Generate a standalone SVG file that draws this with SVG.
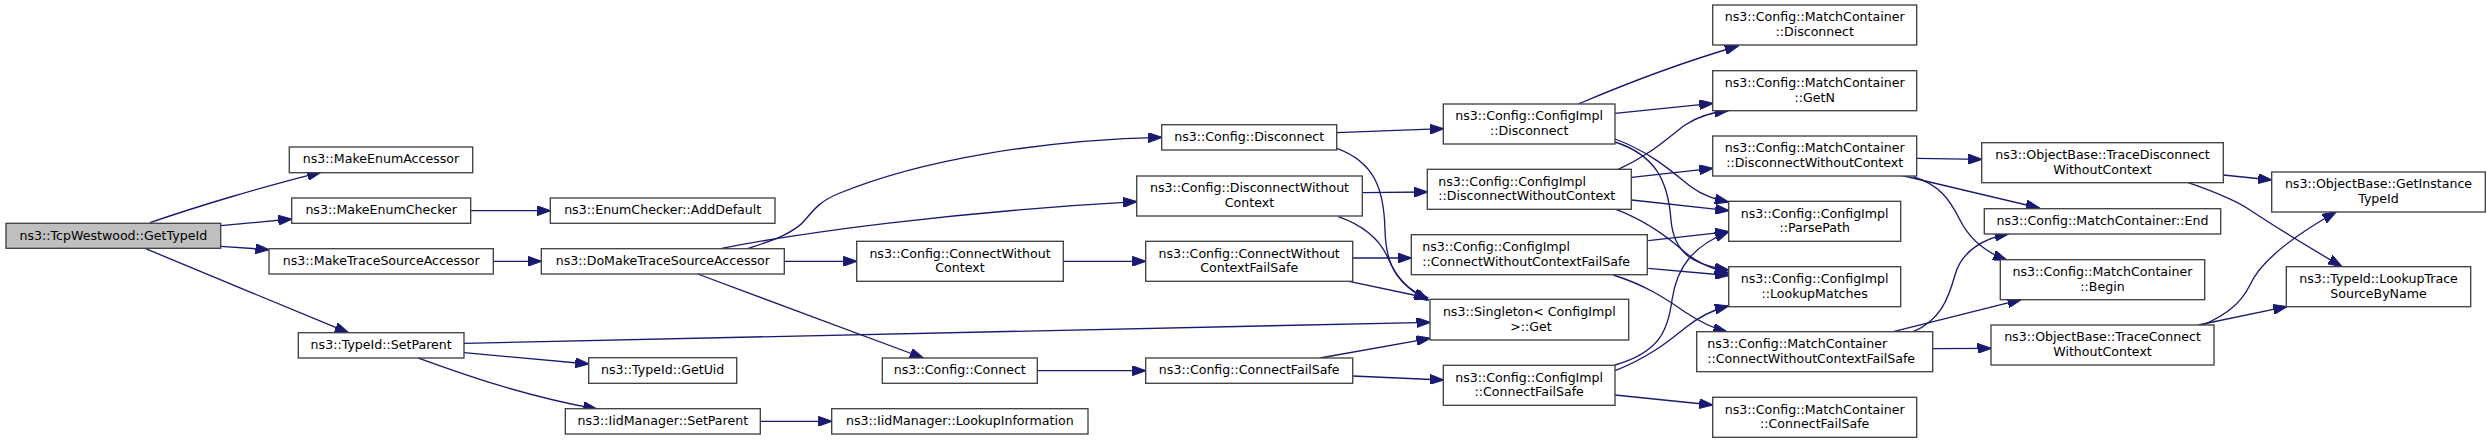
<svg xmlns="http://www.w3.org/2000/svg" width="2491" height="443" viewBox="0 0 2491 443">
<style>
.n rect{fill:#ffffff;stroke:#404040;stroke-width:1.33}
.root rect{fill:#bfbfbf}
.n text{font-family:"DejaVu Sans",sans-serif;font-size:12.6px;fill:#000000;text-anchor:middle}
.n text.l{text-anchor:start}
.e path{fill:none;stroke:#191970;stroke-width:1.33;marker-end:url(#ah)}
</style>
<defs>
<marker id="ah" markerUnits="userSpaceOnUse" viewBox="0 0 14 10" refX="13.5" refY="5" markerWidth="14" markerHeight="10" orient="auto">
<path d="M0,0 L14,5 L0,10 z" fill="#191970" stroke="#191970" stroke-width="1"/>
</marker>
</defs>
<rect width="2491" height="443" fill="#ffffff"/>
<g id="edges" class="e">
<path d="M150,222.7 C195,207 265,186 320.7,172.3"/>
<path d="M220.7,225.7 L291.7,219"/>
<path d="M220.7,246.3 L269,249.7"/>
<path d="M145.7,248.7 L348.3,332.7"/>
<path d="M470.7,210.7 L550.3,210.7"/>
<path d="M493.3,261.3 L541.3,261.3"/>
<path d="M464,343.3 L1430,322.3"/>
<path d="M464,352.7 L588.7,364"/>
<path d="M418.3,358 C460,373 520,395 596.7,409"/>
<path d="M760.3,421.3 L831.7,421.3"/>
<path d="M748.3,248.3 C775,240 795,232 805,220 C815,208 822,200 840,193 C920,160 1040,140 1161.7,137.3"/>
<path d="M721.7,248.3 C800,233 950,212 1136.7,201.7"/>
<path d="M784.3,261.3 L856.7,261.3"/>
<path d="M697.7,274 L923.3,358"/>
<path d="M1063.3,261.3 L1145.7,261.3"/>
<path d="M1037.3,370.7 L1145.7,370.7"/>
<path d="M1336.7,132.7 L1443.3,128.7"/>
<path d="M1336.7,148.3 C1375,162 1384,190 1385,230 C1386,270 1400,285 1428.3,300"/>
<path d="M1362.3,192.7 L1427.3,192"/>
<path d="M1338.3,216.7 C1365,226 1380,240 1388,258 C1396,276 1405,288 1427,300"/>
<path d="M1352.7,258 L1411.3,258"/>
<path d="M1349,281.3 L1428,298"/>
<path d="M1320,358 L1430,338.3"/>
<path d="M1352.7,376 L1443.3,380"/>
<path d="M1578.3,104 C1630,82 1690,60 1738.3,46"/>
<path d="M1615,113.3 L1712.7,103.3"/>
<path d="M1615,139 C1650,152 1670,170 1690,186 C1703,196 1715,199 1728.3,202"/>
<path d="M1615,142 C1655,155 1668,180 1671,220 C1674,255 1695,265 1728.3,270"/>
<path d="M1618.3,169.3 C1650,155 1665,140 1685,125 C1700,115 1715,112 1728.3,110.5"/>
<path d="M1631.7,177.3 L1712.7,168.3"/>
<path d="M1631.7,200 L1728.7,210.7"/>
<path d="M1613.3,208.3 C1645,220 1665,235 1680,248 C1695,262 1710,268 1728.3,273"/>
<path d="M1648.3,240.7 L1728.7,231.7"/>
<path d="M1648.3,268.3 L1728.7,275.5"/>
<path d="M1613.3,275 C1645,285 1665,298 1685,312 C1700,322 1712,328 1726.7,331.7"/>
<path d="M1615,365 C1660,352 1668,330 1672,300 C1677,265 1695,245 1728.3,232"/>
<path d="M1615,370.7 C1650,357 1670,340 1685,328 C1700,316 1712,310 1728.3,306"/>
<path d="M1615,395 L1712.7,405"/>
<path d="M1916.7,158.3 L1981.7,159.3"/>
<path d="M1900,175 L2039.3,208"/>
<path d="M1913.3,176.7 C1940,185 1950,200 1960,220 C1970,240 1985,252 2006.7,260"/>
<path d="M1913.3,331.7 C1940,320 1948,300 1955,275 C1962,250 1985,238 2008.3,234"/>
<path d="M1893.3,331.7 L2021,299.7"/>
<path d="M1932.7,348.7 L1991,348.3"/>
<path d="M2223.3,175 L2271.7,180"/>
<path d="M2188.3,182.7 C2215,192 2235,200 2250,210 C2280,230 2310,248 2341.7,266.5"/>
<path d="M2203.3,325 C2225,315 2240,305 2250,285 C2260,262 2290,238 2336,212"/>
<path d="M2198.3,325 L2286.7,306.7"/>
</g>
<g id="n_gettypeid" class="n root"><rect x="6" y="223.3" width="214.7" height="25"/><text x="113.3" y="239.5">ns3::TcpWestwood::GetTypeId</text></g>
<g id="n_makeenumaccessor" class="n"><rect x="289.3" y="147" width="183.4" height="25.7"/><text x="381" y="163.2">ns3::MakeEnumAccessor</text></g>
<g id="n_makeenumchecker" class="n"><rect x="291.7" y="198" width="179" height="25.3"/><text x="381.2" y="214">ns3::MakeEnumChecker</text></g>
<g id="n_maketracesourceaccessor" class="n"><rect x="269" y="248.7" width="224.3" height="25.3"/><text x="381.2" y="264.7">ns3::MakeTraceSourceAccessor</text></g>
<g id="n_typeid_setparent" class="n"><rect x="298.3" y="332.7" width="165.7" height="25.3"/><text x="381.2" y="348.7">ns3::TypeId::SetParent</text></g>
<g id="n_enumchecker_adddefault" class="n"><rect x="550.3" y="198" width="224.7" height="25.3"/><text x="662.7" y="214">ns3::EnumChecker::AddDefault</text></g>
<g id="n_domaketracesourceaccessor" class="n"><rect x="541.3" y="248.7" width="243" height="25.3"/><text x="662.8" y="264.7">ns3::DoMakeTraceSourceAccessor</text></g>
<g id="n_typeid_getuid" class="n"><rect x="588.7" y="357.7" width="148" height="25.6"/><text x="662.7" y="373.7">ns3::TypeId::GetUid</text></g>
<g id="n_iidmanager_setparent" class="n"><rect x="565.3" y="408.7" width="195" height="25.3"/><text x="662.8" y="424.7">ns3::IidManager::SetParent</text></g>
<g id="n_config_disconnect" class="n"><rect x="1161.7" y="124.7" width="175" height="25.3"/><text x="1249.2" y="140.7">ns3::Config::Disconnect</text></g>
<g id="n_config_disconnectwithoutcontext" class="n"><rect x="1136.7" y="176" width="225.6" height="40"/><text x="1249.5" y="192.3">ns3::Config::DisconnectWithout</text><text x="1249.5" y="207">Context</text></g>
<g id="n_config_connectwithoutcontext" class="n"><rect x="856.7" y="241.3" width="206.6" height="40"/><text x="960" y="257.6">ns3::Config::ConnectWithout</text><text x="960" y="272.3">Context</text></g>
<g id="n_config_connectwithoutcontextfailsafe" class="n"><rect x="1145.7" y="241.3" width="207" height="40"/><text x="1249.2" y="257.6">ns3::Config::ConnectWithout</text><text x="1249.2" y="272.3">ContextFailSafe</text></g>
<g id="n_config_connect" class="n"><rect x="882.3" y="358" width="155" height="25.3"/><text x="959.8" y="374">ns3::Config::Connect</text></g>
<g id="n_config_connectfailsafe" class="n"><rect x="1145.7" y="358" width="207" height="25.3"/><text x="1249.2" y="374">ns3::Config::ConnectFailSafe</text></g>
<g id="n_iidmanager_lookupinformation" class="n"><rect x="831.7" y="408.7" width="256.3" height="25.3"/><text x="959.8" y="424.7">ns3::IidManager::LookupInformation</text></g>
<g id="n_configimpl_disconnect" class="n"><rect x="1443.3" y="104" width="171.7" height="40"/><text x="1529.2" y="120.3">ns3::Config::ConfigImpl</text><text x="1529.2" y="135">::Disconnect</text></g>
<g id="n_configimpl_disconnectwithoutcontext" class="n"><rect x="1427.3" y="169.3" width="204" height="40"/><text class="l" x="1438.3" y="185.6">ns3::Config::ConfigImpl</text><text class="l" x="1438.3" y="200.3">::DisconnectWithoutContext</text></g>
<g id="n_configimpl_connectwithoutcontextfailsafe" class="n"><rect x="1411.3" y="234.7" width="236" height="40"/><text class="l" x="1422.3" y="251">ns3::Config::ConfigImpl</text><text class="l" x="1422.3" y="265.7">::ConnectWithoutContextFailSafe</text></g>
<g id="n_singleton_get" class="n"><rect x="1430" y="299.3" width="198.7" height="40.7"/><text x="1529.3" y="315.9">ns3::Singleton&lt; ConfigImpl</text><text x="1531" y="330.6">&gt;::Get</text></g>
<g id="n_configimpl_connectfailsafe" class="n"><rect x="1443.3" y="365.3" width="171.7" height="40"/><text x="1529.2" y="381.6">ns3::Config::ConfigImpl</text><text x="1529.2" y="396.3">::ConnectFailSafe</text></g>
<g id="n_mc_disconnect" class="n"><rect x="1712.7" y="5" width="204" height="40"/><text x="1814.7" y="21.3">ns3::Config::MatchContainer</text><text x="1814.7" y="36">::Disconnect</text></g>
<g id="n_mc_getn" class="n"><rect x="1712.7" y="70.7" width="204" height="40"/><text x="1814.7" y="87">ns3::Config::MatchContainer</text><text x="1814.7" y="101.7">::GetN</text></g>
<g id="n_mc_disconnectwithoutcontext" class="n"><rect x="1712.7" y="136" width="204" height="40"/><text x="1814.7" y="152.3">ns3::Config::MatchContainer</text><text x="1814.7" y="167">::DisconnectWithoutContext</text></g>
<g id="n_configimpl_parsepath" class="n"><rect x="1728.7" y="201.3" width="172" height="40"/><text x="1814.7" y="217.6">ns3::Config::ConfigImpl</text><text x="1814.7" y="232.3">::ParsePath</text></g>
<g id="n_configimpl_lookupmatches" class="n"><rect x="1728.7" y="266.7" width="172" height="40"/><text x="1814.7" y="283">ns3::Config::ConfigImpl</text><text x="1814.7" y="297.7">::LookupMatches</text></g>
<g id="n_mc_connectwithoutcontextfailsafe" class="n"><rect x="1696.7" y="331.7" width="236" height="40"/><text class="l" x="1707.3" y="348">ns3::Config::MatchContainer</text><text class="l" x="1707.3" y="362.7">::ConnectWithoutContextFailSafe</text></g>
<g id="n_mc_connectfailsafe" class="n"><rect x="1712.7" y="397.3" width="204" height="40"/><text x="1814.7" y="413.6">ns3::Config::MatchContainer</text><text x="1814.7" y="428.3">::ConnectFailSafe</text></g>
<g id="n_ob_tracedisconnectwithoutcontext" class="n"><rect x="1981.7" y="142.7" width="241.6" height="40"/><text x="2102.5" y="159">ns3::ObjectBase::TraceDisconnect</text><text x="2102.5" y="173.7">WithoutContext</text></g>
<g id="n_mc_end" class="n"><rect x="1984.3" y="208.7" width="236.4" height="25.3"/><text x="2102.5" y="224.7">ns3::Config::MatchContainer::End</text></g>
<g id="n_mc_begin" class="n"><rect x="2000.3" y="259.7" width="204.4" height="40"/><text x="2102.5" y="276">ns3::Config::MatchContainer</text><text x="2102.5" y="290.7">::Begin</text></g>
<g id="n_ob_traceconnectwithoutcontext" class="n"><rect x="1991" y="325" width="223" height="40"/><text x="2102.5" y="341.3">ns3::ObjectBase::TraceConnect</text><text x="2102.5" y="356">WithoutContext</text></g>
<g id="n_ob_getinstancetypeid" class="n"><rect x="2271.7" y="172" width="213.6" height="40"/><text x="2378.5" y="188.3">ns3::ObjectBase::GetInstance</text><text x="2378.5" y="203">TypeId</text></g>
<g id="n_typeid_lookuptracesourcebyname" class="n"><rect x="2286.3" y="266.7" width="184.4" height="40"/><text x="2378.5" y="283">ns3::TypeId::LookupTrace</text><text x="2378.5" y="297.7">SourceByName</text></g>
</svg>
